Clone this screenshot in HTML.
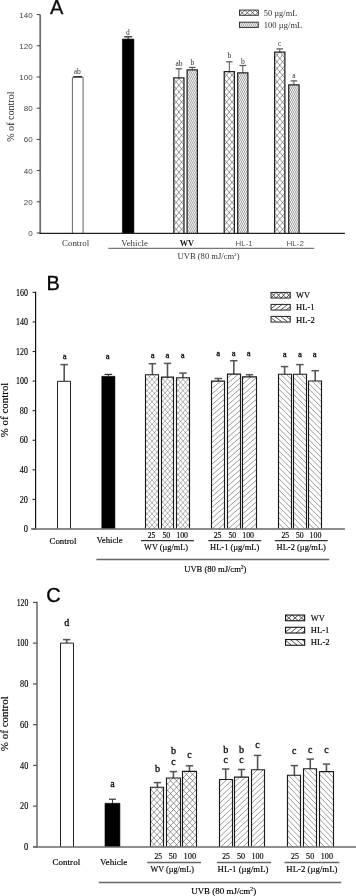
<!DOCTYPE html>
<html><head><meta charset="utf-8"><title>Figure</title>
<style>html,body{margin:0;padding:0;background:#fff}svg{display:block}#chartB text,#chartC text{fill:#000;stroke:#000;stroke-width:.15px}#chartB text.lb,#chartC text.lb{stroke-width:.28px}#chartA text.big,#chartB text.big,#chartC text.big{stroke-width:.3px}</style>
</head><body>
<svg width="356" height="896" viewBox="0 0 356 896">
<rect width="356" height="896" fill="#fff"/>

<g id="chartA">
<line x1="40.2" y1="14.6" x2="40.2" y2="233.5" stroke="#6a6a6a" stroke-width="1.7"/>
<line x1="36.7" y1="233.0" x2="40.2" y2="233.0" stroke="#444" stroke-width="1"/>
<text x="32.7" y="235.9" font-size="8" font-family='"Liberation Sans", sans-serif' fill="#444" text-anchor="end">0</text>
<line x1="36.7" y1="201.8" x2="40.2" y2="201.8" stroke="#444" stroke-width="1"/>
<text x="32.7" y="204.7" font-size="8" font-family='"Liberation Sans", sans-serif' fill="#444" text-anchor="end">20</text>
<line x1="36.7" y1="170.6" x2="40.2" y2="170.6" stroke="#444" stroke-width="1"/>
<text x="32.7" y="173.5" font-size="8" font-family='"Liberation Sans", sans-serif' fill="#444" text-anchor="end">40</text>
<line x1="36.7" y1="139.4" x2="40.2" y2="139.4" stroke="#444" stroke-width="1"/>
<text x="32.7" y="142.3" font-size="8" font-family='"Liberation Sans", sans-serif' fill="#444" text-anchor="end">60</text>
<line x1="36.7" y1="108.2" x2="40.2" y2="108.2" stroke="#444" stroke-width="1"/>
<text x="32.7" y="111.1" font-size="8" font-family='"Liberation Sans", sans-serif' fill="#444" text-anchor="end">80</text>
<line x1="36.7" y1="77.0" x2="40.2" y2="77.0" stroke="#444" stroke-width="1"/>
<text x="32.7" y="79.9" font-size="8" font-family='"Liberation Sans", sans-serif' fill="#444" text-anchor="end">100</text>
<line x1="36.7" y1="45.8" x2="40.2" y2="45.8" stroke="#444" stroke-width="1"/>
<text x="32.7" y="48.7" font-size="8" font-family='"Liberation Sans", sans-serif' fill="#444" text-anchor="end">120</text>
<line x1="36.7" y1="14.6" x2="40.2" y2="14.6" stroke="#444" stroke-width="1"/>
<text x="32.7" y="17.5" font-size="8" font-family='"Liberation Sans", sans-serif' fill="#444" text-anchor="end">140</text>
<text x="14.5" y="141.8" font-size="9.5" font-family='"Liberation Serif", serif' fill="#222" textLength="50.3" lengthAdjust="spacingAndGlyphs" transform="rotate(-90 14.5 141.8)">% of control</text>
<text x="50.0" y="14.2" font-size="20" font-family='"Liberation Sans", sans-serif' fill="#111" class="big" stroke="#111" stroke-width="0.3">A</text>
<line x1="77.75" y1="76.6" x2="77.75" y2="77.5" stroke="#333" stroke-width="1.0"/>
<line x1="73.25" y1="76.6" x2="82.25" y2="76.6" stroke="#333" stroke-width="1.2"/>
<rect x="72.4" y="77.5" width="10.7" height="155.5" fill="#fff"/>
<path d="M72.4 233V77.5H83.1V233" fill="none" stroke="#666" stroke-width="1"/>
<line x1="128.14999999999998" y1="36.8" x2="128.14999999999998" y2="39.1" stroke="#222" stroke-width="1.0"/>
<line x1="124.14999999999998" y1="36.8" x2="132.14999999999998" y2="36.8" stroke="#222" stroke-width="1.2"/>
<rect x="122.4" y="39.1" width="11.5" height="193.9" fill="#000"/>
<path d="M122.4 233V39.1H133.9V233" fill="none" stroke="#000" stroke-width="0.6"/>
<line x1="178.89999999999998" y1="68.8" x2="178.89999999999998" y2="77.83" stroke="#555" stroke-width="1.0"/>
<line x1="175.59999999999997" y1="68.8" x2="182.2" y2="68.8" stroke="#555" stroke-width="1.2"/>
<rect x="173.82" y="77.83" width="10.15" height="155.17" fill="#fff"/>
<path d="M178.6 233.0L184.0 226.3M173.8 232.2L184.0 219.6M173.8 225.5L184.0 212.9M173.8 218.8L184.0 206.2M173.8 212.1L184.0 199.5M173.8 205.4L184.0 192.8M173.8 198.7L184.0 186.1M173.8 192.0L184.0 179.4M173.8 185.3L184.0 172.7M173.8 178.6L184.0 166.0M173.8 171.9L184.0 159.3M173.8 165.2L184.0 152.6M173.8 158.5L184.0 145.9M173.8 151.8L184.0 139.2M173.8 145.1L184.0 132.5M173.8 138.4L184.0 125.8M173.8 131.7L184.0 119.1M173.8 125.0L184.0 112.4M173.8 118.3L184.0 105.7M173.8 111.6L184.0 99.0M173.8 104.9L184.0 92.3M173.8 98.2L184.0 85.6M173.8 91.5L184.0 78.9M173.8 84.8L179.4 77.8M173.8 78.1L174.0 77.8M173.8 226.3L179.2 233.0M173.8 219.6L184.0 232.2M173.8 212.9L184.0 225.5M173.8 206.2L184.0 218.8M173.8 199.5L184.0 212.1M173.8 192.8L184.0 205.4M173.8 186.1L184.0 198.7M173.8 179.4L184.0 192.0M173.8 172.7L184.0 185.3M173.8 166.0L184.0 178.6M173.8 159.3L184.0 171.9M173.8 152.6L184.0 165.2M173.8 145.9L184.0 158.5M173.8 139.2L184.0 151.8M173.8 132.5L184.0 145.1M173.8 125.8L184.0 138.4M173.8 119.1L184.0 131.7M173.8 112.4L184.0 125.0M173.8 105.7L184.0 118.3M173.8 99.0L184.0 111.6M173.8 92.3L184.0 104.9M173.8 85.6L184.0 98.2M173.8 78.9L184.0 91.5M178.4 77.8L184.0 84.8M183.8 77.8L184.0 78.1" stroke="#444" stroke-width="0.55" fill="none"/>
<path d="M173.82 233V77.83H183.97V233" fill="none" stroke="#222" stroke-width="1.25"/>
<line x1="192.25" y1="67.4" x2="192.25" y2="69.92" stroke="#555" stroke-width="1.0"/>
<line x1="188.95" y1="67.4" x2="195.55" y2="67.4" stroke="#555" stroke-width="1.2"/>
<rect x="187.12" y="69.92" width="10.26" height="163.08" fill="#fff"/>
<path d="M195.4 233.0L197.4 229.0M193.4 233.0L197.4 225.0M191.4 233.0L197.4 221.0M189.4 233.0L197.4 217.0M187.4 233.0L197.4 213.0M187.1 229.5L197.4 209.0M187.1 225.5L197.4 205.0M187.1 221.5L197.4 201.0M187.1 217.5L197.4 197.0M187.1 213.5L197.4 193.0M187.1 209.5L197.4 189.0M187.1 205.5L197.4 185.0M187.1 201.5L197.4 181.0M187.1 197.5L197.4 177.0M187.1 193.5L197.4 173.0M187.1 189.5L197.4 169.0M187.1 185.5L197.4 165.0M187.1 181.5L197.4 161.0M187.1 177.5L197.4 157.0M187.1 173.5L197.4 153.0M187.1 169.5L197.4 149.0M187.1 165.5L197.4 145.0M187.1 161.5L197.4 141.0M187.1 157.5L197.4 137.0M187.1 153.5L197.4 133.0M187.1 149.5L197.4 129.0M187.1 145.5L197.4 125.0M187.1 141.5L197.4 121.0M187.1 137.5L197.4 117.0M187.1 133.5L197.4 113.0M187.1 129.5L197.4 109.0M187.1 125.5L197.4 105.0M187.1 121.5L197.4 101.0M187.1 117.5L197.4 97.0M187.1 113.5L197.4 93.0M187.1 109.5L197.4 89.0M187.1 105.5L197.4 85.0M187.1 101.5L197.4 81.0M187.1 97.5L197.4 77.0M187.1 93.5L197.4 73.0M187.1 89.5L196.9 69.9M187.1 85.5L194.9 69.9M187.1 81.5L192.9 69.9M187.1 77.5L190.9 69.9M187.1 73.5L188.9 69.9" stroke="#555" stroke-width="0.6" fill="none"/>
<path d="M187.12 233V69.92H197.38V233" fill="none" stroke="#222" stroke-width="1.25"/>
<line x1="229.3" y1="61.8" x2="229.3" y2="71.53" stroke="#555" stroke-width="1.0"/>
<line x1="226.0" y1="61.8" x2="232.60000000000002" y2="61.8" stroke="#555" stroke-width="1.2"/>
<rect x="224.22" y="71.53" width="10.16" height="161.47" fill="#fff"/>
<path d="M229.0 233.0L234.4 226.3M224.2 232.2L234.4 219.6M224.2 225.5L234.4 212.9M224.2 218.8L234.4 206.2M224.2 212.1L234.4 199.5M224.2 205.4L234.4 192.8M224.2 198.7L234.4 186.1M224.2 192.0L234.4 179.4M224.2 185.3L234.4 172.7M224.2 178.6L234.4 166.0M224.2 171.9L234.4 159.3M224.2 165.2L234.4 152.6M224.2 158.5L234.4 145.9M224.2 151.8L234.4 139.2M224.2 145.1L234.4 132.5M224.2 138.4L234.4 125.8M224.2 131.7L234.4 119.1M224.2 125.0L234.4 112.4M224.2 118.3L234.4 105.7M224.2 111.6L234.4 99.0M224.2 104.9L234.4 92.3M224.2 98.2L234.4 85.6M224.2 91.5L234.4 78.9M224.2 84.8L234.4 72.2M224.2 78.1L229.5 71.5M224.2 226.3L229.6 233.0M224.2 219.6L234.4 232.2M224.2 212.9L234.4 225.5M224.2 206.2L234.4 218.8M224.2 199.5L234.4 212.1M224.2 192.8L234.4 205.4M224.2 186.1L234.4 198.7M224.2 179.4L234.4 192.0M224.2 172.7L234.4 185.3M224.2 166.0L234.4 178.6M224.2 159.3L234.4 171.9M224.2 152.6L234.4 165.2M224.2 145.9L234.4 158.5M224.2 139.2L234.4 151.8M224.2 132.5L234.4 145.1M224.2 125.8L234.4 138.4M224.2 119.1L234.4 131.7M224.2 112.4L234.4 125.0M224.2 105.7L234.4 118.3M224.2 99.0L234.4 111.6M224.2 92.3L234.4 104.9M224.2 85.6L234.4 98.2M224.2 78.9L234.4 91.5M224.2 72.2L234.4 84.8M229.1 71.5L234.4 78.1" stroke="#444" stroke-width="0.55" fill="none"/>
<path d="M224.22 233V71.53H234.38V233" fill="none" stroke="#222" stroke-width="1.25"/>
<line x1="242.8" y1="65.5" x2="242.8" y2="72.83" stroke="#555" stroke-width="1.0"/>
<line x1="239.5" y1="65.5" x2="246.10000000000002" y2="65.5" stroke="#555" stroke-width="1.2"/>
<rect x="237.72" y="72.83" width="10.16" height="160.17" fill="#fff"/>
<path d="M245.9 233.0L247.9 229.0M243.9 233.0L247.9 225.0M241.9 233.0L247.9 221.0M239.9 233.0L247.9 217.0M237.9 233.0L247.9 213.0M237.7 229.3L247.9 209.0M237.7 225.3L247.9 205.0M237.7 221.3L247.9 201.0M237.7 217.3L247.9 197.0M237.7 213.3L247.9 193.0M237.7 209.3L247.9 189.0M237.7 205.3L247.9 185.0M237.7 201.3L247.9 181.0M237.7 197.3L247.9 177.0M237.7 193.3L247.9 173.0M237.7 189.3L247.9 169.0M237.7 185.3L247.9 165.0M237.7 181.3L247.9 161.0M237.7 177.3L247.9 157.0M237.7 173.3L247.9 153.0M237.7 169.3L247.9 149.0M237.7 165.3L247.9 145.0M237.7 161.3L247.9 141.0M237.7 157.3L247.9 137.0M237.7 153.3L247.9 133.0M237.7 149.3L247.9 129.0M237.7 145.3L247.9 125.0M237.7 141.3L247.9 121.0M237.7 137.3L247.9 117.0M237.7 133.3L247.9 113.0M237.7 129.3L247.9 109.0M237.7 125.3L247.9 105.0M237.7 121.3L247.9 101.0M237.7 117.3L247.9 97.0M237.7 113.3L247.9 93.0M237.7 109.3L247.9 89.0M237.7 105.3L247.9 85.0M237.7 101.3L247.9 81.0M237.7 97.3L247.9 77.0M237.7 93.3L247.9 73.0M237.7 89.3L246.0 72.8M237.7 85.3L244.0 72.8M237.7 81.3L242.0 72.8M237.7 77.3L240.0 72.8M237.7 73.3L238.0 72.8" stroke="#555" stroke-width="0.6" fill="none"/>
<path d="M237.72 233V72.83H247.88V233" fill="none" stroke="#222" stroke-width="1.25"/>
<line x1="279.75" y1="48.9" x2="279.75" y2="52.23" stroke="#555" stroke-width="1.0"/>
<line x1="276.45" y1="48.9" x2="283.05" y2="48.9" stroke="#555" stroke-width="1.2"/>
<rect x="274.62" y="52.23" width="10.26" height="180.77" fill="#fff"/>
<path d="M279.5 233.0L284.9 226.3M274.6 232.3L284.9 219.6M274.6 225.6L284.9 212.9M274.6 218.9L284.9 206.2M274.6 212.2L284.9 199.5M274.6 205.5L284.9 192.8M274.6 198.8L284.9 186.1M274.6 192.1L284.9 179.4M274.6 185.4L284.9 172.7M274.6 178.7L284.9 166.0M274.6 172.0L284.9 159.3M274.6 165.3L284.9 152.6M274.6 158.6L284.9 145.9M274.6 151.9L284.9 139.2M274.6 145.2L284.9 132.5M274.6 138.5L284.9 125.8M274.6 131.8L284.9 119.1M274.6 125.1L284.9 112.4M274.6 118.4L284.9 105.7M274.6 111.7L284.9 99.0M274.6 105.0L284.9 92.3M274.6 98.3L284.9 85.6M274.6 91.6L284.9 78.9M274.6 84.9L284.9 72.2M274.6 78.2L284.9 65.5M274.6 71.5L284.9 58.8M274.6 64.8L284.8 52.2M274.6 58.1L279.4 52.2M274.6 226.3L280.0 233.0M274.6 219.6L284.9 232.3M274.6 212.9L284.9 225.6M274.6 206.2L284.9 218.9M274.6 199.5L284.9 212.2M274.6 192.8L284.9 205.5M274.6 186.1L284.9 198.8M274.6 179.4L284.9 192.1M274.6 172.7L284.9 185.4M274.6 166.0L284.9 178.7M274.6 159.3L284.9 172.0M274.6 152.6L284.9 165.3M274.6 145.9L284.9 158.6M274.6 139.2L284.9 151.9M274.6 132.5L284.9 145.2M274.6 125.8L284.9 138.5M274.6 119.1L284.9 131.8M274.6 112.4L284.9 125.1M274.6 105.7L284.9 118.4M274.6 99.0L284.9 111.7M274.6 92.3L284.9 105.0M274.6 85.6L284.9 98.3M274.6 78.9L284.9 91.6M274.6 72.2L284.9 84.9M274.6 65.5L284.9 78.2M274.6 58.8L284.9 71.5M274.7 52.2L284.9 64.8M280.1 52.2L284.9 58.1" stroke="#444" stroke-width="0.55" fill="none"/>
<path d="M274.62 233V52.23H284.88V233" fill="none" stroke="#222" stroke-width="1.25"/>
<line x1="293.9" y1="80.9" x2="293.9" y2="84.92" stroke="#555" stroke-width="1.0"/>
<line x1="290.59999999999997" y1="80.9" x2="297.2" y2="80.9" stroke="#555" stroke-width="1.2"/>
<rect x="288.73" y="84.92" width="10.34" height="148.08" fill="#fff"/>
<path d="M297.1 233.0L299.1 229.0M295.1 233.0L299.1 225.0M293.1 233.0L299.1 221.0M291.1 233.0L299.1 217.0M289.1 233.0L299.1 213.0M288.7 229.7L299.1 209.0M288.7 225.7L299.1 205.0M288.7 221.7L299.1 201.0M288.7 217.7L299.1 197.0M288.7 213.7L299.1 193.0M288.7 209.7L299.1 189.0M288.7 205.7L299.1 185.0M288.7 201.7L299.1 181.0M288.7 197.7L299.1 177.0M288.7 193.7L299.1 173.0M288.7 189.7L299.1 169.0M288.7 185.7L299.1 165.0M288.7 181.7L299.1 161.0M288.7 177.7L299.1 157.0M288.7 173.7L299.1 153.0M288.7 169.7L299.1 149.0M288.7 165.7L299.1 145.0M288.7 161.7L299.1 141.0M288.7 157.7L299.1 137.0M288.7 153.7L299.1 133.0M288.7 149.7L299.1 129.0M288.7 145.7L299.1 125.0M288.7 141.7L299.1 121.0M288.7 137.7L299.1 117.0M288.7 133.7L299.1 113.0M288.7 129.7L299.1 109.0M288.7 125.7L299.1 105.0M288.7 121.7L299.1 101.0M288.7 117.7L299.1 97.0M288.7 113.7L299.1 93.0M288.7 109.7L299.1 89.0M288.7 105.7L299.1 85.0M288.7 101.7L297.1 84.9M288.7 97.7L295.1 84.9M288.7 93.7L293.1 84.9M288.7 89.7L291.1 84.9M288.7 85.7L289.1 84.9" stroke="#555" stroke-width="0.6" fill="none"/>
<path d="M288.73 233V84.92H299.07V233" fill="none" stroke="#222" stroke-width="1.25"/>
<text x="77.2" y="73.6" font-size="7.5" font-family='"Liberation Serif", serif' fill="#333" text-anchor="middle">ab</text>
<text x="127.8" y="35.1" font-size="7.5" font-family='"Liberation Serif", serif' fill="#333" text-anchor="middle">d</text>
<text x="179" y="66.2" font-size="7.5" font-family='"Liberation Serif", serif' fill="#333" text-anchor="middle">ab</text>
<text x="192.3" y="65.0" font-size="7.5" font-family='"Liberation Serif", serif' fill="#333" text-anchor="middle">b</text>
<text x="229.3" y="57.8" font-size="7.5" font-family='"Liberation Serif", serif' fill="#333" text-anchor="middle">b</text>
<text x="242.8" y="63.6" font-size="7.5" font-family='"Liberation Serif", serif' fill="#333" text-anchor="middle">b</text>
<text x="279.7" y="46" font-size="7.5" font-family='"Liberation Serif", serif' fill="#333" text-anchor="middle">c</text>
<text x="294" y="78" font-size="7.5" font-family='"Liberation Serif", serif' fill="#333" text-anchor="middle">a</text>
<rect x="239.50" y="10.10" width="18.80" height="5.20" fill="#fff"/>
<clipPath id="c2390_96"><rect x="239.50" y="10.10" width="18.80" height="5.20"/></clipPath>
<path clip-path="url(#c2390_96)" d="M234.3 15.3L239.5 10.1M234.3 10.1L239.5 15.3M239.5 15.3L244.7 10.1M239.5 10.1L244.7 15.3M244.7 15.3L249.9 10.1M244.7 10.1L249.9 15.3M249.9 15.3L255.1 10.1M249.9 10.1L255.1 15.3M255.1 15.3L260.3 10.1M255.1 10.1L260.3 15.3" stroke="#333" stroke-width="0.7" fill="none"/>
<rect x="239.50" y="10.10" width="18.80" height="5.20" fill="none" stroke="#333" stroke-width="1.0"/>
<rect x="239.50" y="22.20" width="18.80" height="5.20" fill="#fff"/>
<path d="M256.3 27.4L258.3 23.4M254.3 27.4L256.9 22.2M252.3 27.4L254.9 22.2M250.3 27.4L252.9 22.2M248.3 27.4L250.9 22.2M246.3 27.4L248.9 22.2M244.3 27.4L246.9 22.2M242.3 27.4L244.9 22.2M240.3 27.4L242.9 22.2M239.5 25.0L240.9 22.2" stroke="#555" stroke-width="0.6" fill="none"/>
<rect x="239.50" y="22.20" width="18.80" height="5.20" fill="none" stroke="#333" stroke-width="1.0"/>
<text x="263.8" y="15.6" font-size="7.5" font-family='"Liberation Serif", serif' fill="#333" textLength="33.5" lengthAdjust="spacingAndGlyphs">50 µg/mL</text>
<text x="263.8" y="27.7" font-size="7.5" font-family='"Liberation Serif", serif' fill="#333" textLength="38.5" lengthAdjust="spacingAndGlyphs">100 µg/mL</text>
<text x="62" y="245.6" font-size="8" font-family='"Liberation Serif", serif' fill="#333" textLength="27.2" lengthAdjust="spacingAndGlyphs">Control</text>
<text x="121.2" y="245.6" font-size="8" font-family='"Liberation Serif", serif' fill="#333" textLength="26.8" lengthAdjust="spacingAndGlyphs">Vehicle</text>
<text x="179.8" y="245.6" font-size="8" font-family='"Liberation Serif", serif' fill="#111" textLength="14.3" lengthAdjust="spacingAndGlyphs" font-weight="bold">WV</text>
<text x="235.6" y="245.9" font-size="7.4" font-family='"Liberation Sans", sans-serif' fill="#555" textLength="17.2" lengthAdjust="spacingAndGlyphs">HL-1</text>
<text x="286.4" y="245.9" font-size="7.4" font-family='"Liberation Sans", sans-serif' fill="#555" textLength="17.5" lengthAdjust="spacingAndGlyphs">HL-2</text>
<line x1="108.3" y1="248.3" x2="314.2" y2="248.3" stroke="#555" stroke-width="1"/>
<text x="177.6" y="259.3" font-size="8" font-family='"Liberation Serif", serif' fill="#333" textLength="62" lengthAdjust="spacingAndGlyphs">UVB (80 mJ/cm<tspan dy="-3" font-size="5">2</tspan><tspan dy="3">)</tspan></text>
<line x1="39.4" y1="233.3" x2="344.9" y2="233.3" stroke="#222" stroke-width="1.2"/>
</g>
<g id="chartB">
<line x1="35.6" y1="291.86" x2="35.6" y2="529.3" stroke="#111" stroke-width="1.2"/>
<line x1="32.6" y1="529.0" x2="35.5" y2="529.0" stroke="#222" stroke-width="1.1"/>
<text x="27.9" y="532.2" font-size="9.5" font-family='"Liberation Serif", serif' fill="#222" text-anchor="end" textLength="4.2" lengthAdjust="spacingAndGlyphs">0</text>
<line x1="32.6" y1="499.42" x2="35.5" y2="499.42" stroke="#222" stroke-width="1.1"/>
<text x="27.9" y="502.62" font-size="9.5" font-family='"Liberation Serif", serif' fill="#222" text-anchor="end" textLength="8.2" lengthAdjust="spacingAndGlyphs">20</text>
<line x1="32.6" y1="469.84" x2="35.5" y2="469.84" stroke="#222" stroke-width="1.1"/>
<text x="27.9" y="473.04" font-size="9.5" font-family='"Liberation Serif", serif' fill="#222" text-anchor="end" textLength="8.2" lengthAdjust="spacingAndGlyphs">40</text>
<line x1="32.6" y1="440.26" x2="35.5" y2="440.26" stroke="#222" stroke-width="1.1"/>
<text x="27.9" y="443.46" font-size="9.5" font-family='"Liberation Serif", serif' fill="#222" text-anchor="end" textLength="8.2" lengthAdjust="spacingAndGlyphs">60</text>
<line x1="32.6" y1="410.68" x2="35.5" y2="410.68" stroke="#222" stroke-width="1.1"/>
<text x="27.9" y="413.88" font-size="9.5" font-family='"Liberation Serif", serif' fill="#222" text-anchor="end" textLength="8.2" lengthAdjust="spacingAndGlyphs">80</text>
<line x1="32.6" y1="381.1" x2="35.5" y2="381.1" stroke="#222" stroke-width="1.1"/>
<text x="27.9" y="384.3" font-size="9.5" font-family='"Liberation Serif", serif' fill="#222" text-anchor="end" textLength="11.9" lengthAdjust="spacingAndGlyphs">100</text>
<line x1="32.6" y1="351.52" x2="35.5" y2="351.52" stroke="#222" stroke-width="1.1"/>
<text x="27.9" y="354.72" font-size="9.5" font-family='"Liberation Serif", serif' fill="#222" text-anchor="end" textLength="11.9" lengthAdjust="spacingAndGlyphs">120</text>
<line x1="32.6" y1="321.94" x2="35.5" y2="321.94" stroke="#222" stroke-width="1.1"/>
<text x="27.9" y="325.14" font-size="9.5" font-family='"Liberation Serif", serif' fill="#222" text-anchor="end" textLength="11.9" lengthAdjust="spacingAndGlyphs">140</text>
<line x1="32.6" y1="292.36" x2="35.5" y2="292.36" stroke="#222" stroke-width="1.1"/>
<text x="27.9" y="295.56" font-size="9.5" font-family='"Liberation Serif", serif' fill="#222" text-anchor="end" textLength="11.9" lengthAdjust="spacingAndGlyphs">160</text>
<text x="7.7" y="437.2" font-size="10.8" font-family='"Liberation Serif", serif' fill="#222" textLength="54.6" lengthAdjust="spacingAndGlyphs" transform="rotate(-90 7.7 437.2)">% of control</text>
<text x="46.6" y="290.1" font-size="20" font-family='"Liberation Sans", sans-serif' fill="#111" class="big" stroke="#111" stroke-width="0.3">B</text>
<line x1="64.2" y1="364.6" x2="64.2" y2="381.3" stroke="#555" stroke-width="1.6"/>
<line x1="60.5" y1="364.6" x2="67.9" y2="364.6" stroke="#555" stroke-width="1.5"/>
<rect x="57.5" y="381.3" width="13.0" height="147.5" fill="#fff"/>
<path d="M57.5 528.8V381.3H70.5V528.8" fill="none" stroke="#222" stroke-width="1"/>
<line x1="108.35" y1="374.4" x2="108.35" y2="376.3" stroke="#333" stroke-width="1.0"/>
<line x1="104.55" y1="374.4" x2="112.14999999999999" y2="374.4" stroke="#333" stroke-width="1.2"/>
<rect x="101.8" y="376.3" width="13.1" height="152.5" fill="#000"/>
<path d="M101.8 528.8V376.3H114.9V528.8" fill="none" stroke="#000" stroke-width="0.6"/>
<line x1="152.4" y1="363.7" x2="152.4" y2="374.77" stroke="#555" stroke-width="1.6"/>
<line x1="148.70000000000002" y1="363.7" x2="156.1" y2="363.7" stroke="#555" stroke-width="1.5"/>
<rect x="145.5" y="374.77" width="13.0" height="154.03" fill="#fff"/>
<path d="M153.6 528.8L158.5 523.2M148.7 528.8L158.5 517.6M145.5 526.8L158.5 512.0M145.5 521.2L158.5 506.4M145.5 515.6L158.5 500.8M145.5 510.0L158.5 495.2M145.5 504.4L158.5 489.6M145.5 498.8L158.5 484.0M145.5 493.2L158.5 478.4M145.5 487.6L158.5 472.8M145.5 482.0L158.5 467.2M145.5 476.4L158.5 461.6M145.5 470.8L158.5 456.0M145.5 465.2L158.5 450.4M145.5 459.6L158.5 444.8M145.5 454.0L158.5 439.2M145.5 448.4L158.5 433.6M145.5 442.8L158.5 428.0M145.5 437.2L158.5 422.4M145.5 431.6L158.5 416.8M145.5 426.0L158.5 411.2M145.5 420.4L158.5 405.6M145.5 414.8L158.5 400.0M145.5 409.2L158.5 394.4M145.5 403.6L158.5 388.8M145.5 398.0L158.5 383.2M145.5 392.4L158.5 377.6M145.5 386.8L156.1 374.8M145.5 381.2L151.2 374.8M145.5 375.6L146.2 374.8M145.5 523.2L150.4 528.8M145.5 517.6L155.3 528.8M145.5 512.0L158.5 526.8M145.5 506.4L158.5 521.2M145.5 500.8L158.5 515.6M145.5 495.2L158.5 510.0M145.5 489.6L158.5 504.4M145.5 484.0L158.5 498.8M145.5 478.4L158.5 493.2M145.5 472.8L158.5 487.6M145.5 467.2L158.5 482.0M145.5 461.6L158.5 476.4M145.5 456.0L158.5 470.8M145.5 450.4L158.5 465.2M145.5 444.8L158.5 459.6M145.5 439.2L158.5 454.0M145.5 433.6L158.5 448.4M145.5 428.0L158.5 442.8M145.5 422.4L158.5 437.2M145.5 416.8L158.5 431.6M145.5 411.2L158.5 426.0M145.5 405.6L158.5 420.4M145.5 400.0L158.5 414.8M145.5 394.4L158.5 409.2M145.5 388.8L158.5 403.6M145.5 383.2L158.5 398.0M145.5 377.6L158.5 392.4M147.9 374.8L158.5 386.8M152.8 374.8L158.5 381.2M157.8 374.8L158.5 375.6" stroke="#555" stroke-width="0.45" fill="none"/>
<path d="M145.5 528.8V374.77H158.5V528.8" fill="none" stroke="#1a1a1a" stroke-width="1.15"/>
<line x1="167.5" y1="363.4" x2="167.5" y2="377.07" stroke="#555" stroke-width="1.6"/>
<line x1="163.8" y1="363.4" x2="171.2" y2="363.4" stroke="#555" stroke-width="1.5"/>
<rect x="161.5" y="377.07" width="12.0" height="151.73" fill="#fff"/>
<path d="M168.6 528.8L173.5 523.2M163.7 528.8L173.5 517.6M161.5 525.7L173.5 512.0M161.5 520.1L173.5 506.4M161.5 514.5L173.5 500.8M161.5 508.9L173.5 495.2M161.5 503.3L173.5 489.6M161.5 497.7L173.5 484.0M161.5 492.1L173.5 478.4M161.5 486.5L173.5 472.8M161.5 480.9L173.5 467.2M161.5 475.3L173.5 461.6M161.5 469.7L173.5 456.0M161.5 464.1L173.5 450.4M161.5 458.5L173.5 444.8M161.5 452.9L173.5 439.2M161.5 447.3L173.5 433.6M161.5 441.7L173.5 428.0M161.5 436.1L173.5 422.4M161.5 430.5L173.5 416.8M161.5 424.9L173.5 411.2M161.5 419.3L173.5 405.6M161.5 413.7L173.5 400.0M161.5 408.1L173.5 394.4M161.5 402.5L173.5 388.8M161.5 396.9L173.5 383.2M161.5 391.3L173.5 377.6M161.5 385.7L169.1 377.1M161.5 380.1L164.1 377.1M161.5 523.2L166.4 528.8M161.5 517.6L171.3 528.8M161.5 512.0L173.5 525.7M161.5 506.4L173.5 520.1M161.5 500.8L173.5 514.5M161.5 495.2L173.5 508.9M161.5 489.6L173.5 503.3M161.5 484.0L173.5 497.7M161.5 478.4L173.5 492.1M161.5 472.8L173.5 486.5M161.5 467.2L173.5 480.9M161.5 461.6L173.5 475.3M161.5 456.0L173.5 469.7M161.5 450.4L173.5 464.1M161.5 444.8L173.5 458.5M161.5 439.2L173.5 452.9M161.5 433.6L173.5 447.3M161.5 428.0L173.5 441.7M161.5 422.4L173.5 436.1M161.5 416.8L173.5 430.5M161.5 411.2L173.5 424.9M161.5 405.6L173.5 419.3M161.5 400.0L173.5 413.7M161.5 394.4L173.5 408.1M161.5 388.8L173.5 402.5M161.5 383.2L173.5 396.9M161.5 377.6L173.5 391.3M165.9 377.1L173.5 385.7M170.9 377.1L173.5 380.1" stroke="#555" stroke-width="0.45" fill="none"/>
<path d="M161.5 528.8V377.07H173.5V528.8" fill="none" stroke="#1a1a1a" stroke-width="1.15"/>
<line x1="182.9" y1="373.1" x2="182.9" y2="377.77" stroke="#555" stroke-width="1.6"/>
<line x1="179.20000000000002" y1="373.1" x2="186.6" y2="373.1" stroke="#555" stroke-width="1.5"/>
<rect x="176.5" y="377.77" width="13.0" height="151.03" fill="#fff"/>
<path d="M184.6 528.8L189.5 523.2M179.7 528.8L189.5 517.6M176.5 526.8L189.5 512.0M176.5 521.2L189.5 506.4M176.5 515.6L189.5 500.8M176.5 510.0L189.5 495.2M176.5 504.4L189.5 489.6M176.5 498.8L189.5 484.0M176.5 493.2L189.5 478.4M176.5 487.6L189.5 472.8M176.5 482.0L189.5 467.2M176.5 476.4L189.5 461.6M176.5 470.8L189.5 456.0M176.5 465.2L189.5 450.4M176.5 459.6L189.5 444.8M176.5 454.0L189.5 439.2M176.5 448.4L189.5 433.6M176.5 442.8L189.5 428.0M176.5 437.2L189.5 422.4M176.5 431.6L189.5 416.8M176.5 426.0L189.5 411.2M176.5 420.4L189.5 405.6M176.5 414.8L189.5 400.0M176.5 409.2L189.5 394.4M176.5 403.6L189.5 388.8M176.5 398.0L189.5 383.2M176.5 392.4L189.4 377.8M176.5 386.8L184.4 377.8M176.5 381.2L179.5 377.8M176.5 523.2L181.4 528.8M176.5 517.6L186.3 528.8M176.5 512.0L189.5 526.8M176.5 506.4L189.5 521.2M176.5 500.8L189.5 515.6M176.5 495.2L189.5 510.0M176.5 489.6L189.5 504.4M176.5 484.0L189.5 498.8M176.5 478.4L189.5 493.2M176.5 472.8L189.5 487.6M176.5 467.2L189.5 482.0M176.5 461.6L189.5 476.4M176.5 456.0L189.5 470.8M176.5 450.4L189.5 465.2M176.5 444.8L189.5 459.6M176.5 439.2L189.5 454.0M176.5 433.6L189.5 448.4M176.5 428.0L189.5 442.8M176.5 422.4L189.5 437.2M176.5 416.8L189.5 431.6M176.5 411.2L189.5 426.0M176.5 405.6L189.5 420.4M176.5 400.0L189.5 414.8M176.5 394.4L189.5 409.2M176.5 388.8L189.5 403.6M176.5 383.2L189.5 398.0M176.6 377.8L189.5 392.4M181.6 377.8L189.5 386.8M186.5 377.8L189.5 381.2" stroke="#555" stroke-width="0.45" fill="none"/>
<path d="M176.5 528.8V377.77H189.5V528.8" fill="none" stroke="#1a1a1a" stroke-width="1.15"/>
<line x1="218.3" y1="378.5" x2="218.3" y2="381.18" stroke="#555" stroke-width="1.6"/>
<line x1="214.60000000000002" y1="378.5" x2="222.0" y2="378.5" stroke="#555" stroke-width="1.5"/>
<rect x="211.5" y="381.18" width="13.0" height="147.62" fill="#fff"/>
<path d="M218.3 528.8L224.5 523.4M212.1 528.8L224.5 518.0M211.5 523.9L224.5 512.6M211.5 518.5L224.5 507.2M211.5 513.1L224.5 501.8M211.5 507.7L224.5 496.4M211.5 502.3L224.5 491.0M211.5 496.9L224.5 485.6M211.5 491.5L224.5 480.2M211.5 486.1L224.5 474.8M211.5 480.7L224.5 469.4M211.5 475.3L224.5 464.0M211.5 469.9L224.5 458.6M211.5 464.5L224.5 453.2M211.5 459.1L224.5 447.8M211.5 453.7L224.5 442.4M211.5 448.3L224.5 437.0M211.5 442.9L224.5 431.6M211.5 437.5L224.5 426.2M211.5 432.1L224.5 420.8M211.5 426.7L224.5 415.4M211.5 421.3L224.5 410.0M211.5 415.9L224.5 404.6M211.5 410.5L224.5 399.2M211.5 405.1L224.5 393.8M211.5 399.7L224.5 388.4M211.5 394.3L224.5 383.0M211.5 388.9L220.4 381.2M211.5 383.5L214.2 381.2" stroke="#555" stroke-width="0.6" fill="none"/>
<path d="M211.5 528.8V381.18H224.5V528.8" fill="none" stroke="#1a1a1a" stroke-width="1.15"/>
<line x1="233.8" y1="360.7" x2="233.8" y2="374.07" stroke="#555" stroke-width="1.6"/>
<line x1="230.10000000000002" y1="360.7" x2="237.5" y2="360.7" stroke="#555" stroke-width="1.5"/>
<rect x="227.5" y="374.07" width="13.0" height="154.73" fill="#fff"/>
<path d="M234.3 528.8L240.5 523.4M228.1 528.8L240.5 518.0M227.5 523.9L240.5 512.6M227.5 518.5L240.5 507.2M227.5 513.1L240.5 501.8M227.5 507.7L240.5 496.4M227.5 502.3L240.5 491.0M227.5 496.9L240.5 485.6M227.5 491.5L240.5 480.2M227.5 486.1L240.5 474.8M227.5 480.7L240.5 469.4M227.5 475.3L240.5 464.0M227.5 469.9L240.5 458.6M227.5 464.5L240.5 453.2M227.5 459.1L240.5 447.8M227.5 453.7L240.5 442.4M227.5 448.3L240.5 437.0M227.5 442.9L240.5 431.6M227.5 437.5L240.5 426.2M227.5 432.1L240.5 420.8M227.5 426.7L240.5 415.4M227.5 421.3L240.5 410.0M227.5 415.9L240.5 404.6M227.5 410.5L240.5 399.2M227.5 405.1L240.5 393.8M227.5 399.7L240.5 388.4M227.5 394.3L240.5 383.0M227.5 388.9L240.5 377.6M227.5 383.5L238.4 374.1M227.5 378.1L232.1 374.1" stroke="#555" stroke-width="0.6" fill="none"/>
<path d="M227.5 528.8V374.07H240.5V528.8" fill="none" stroke="#1a1a1a" stroke-width="1.15"/>
<line x1="249.5" y1="374.7" x2="249.5" y2="376.88" stroke="#555" stroke-width="1.6"/>
<line x1="245.8" y1="374.7" x2="253.2" y2="374.7" stroke="#555" stroke-width="1.5"/>
<rect x="242.5" y="376.88" width="14.0" height="151.92" fill="#fff"/>
<path d="M250.3 528.8L256.5 523.4M244.1 528.8L256.5 518.0M242.5 524.8L256.5 512.6M242.5 519.4L256.5 507.2M242.5 514.0L256.5 501.8M242.5 508.6L256.5 496.4M242.5 503.2L256.5 491.0M242.5 497.8L256.5 485.6M242.5 492.4L256.5 480.2M242.5 487.0L256.5 474.8M242.5 481.6L256.5 469.4M242.5 476.2L256.5 464.0M242.5 470.8L256.5 458.6M242.5 465.4L256.5 453.2M242.5 460.0L256.5 447.8M242.5 454.6L256.5 442.4M242.5 449.2L256.5 437.0M242.5 443.8L256.5 431.6M242.5 438.4L256.5 426.2M242.5 433.0L256.5 420.8M242.5 427.6L256.5 415.4M242.5 422.2L256.5 410.0M242.5 416.8L256.5 404.6M242.5 411.4L256.5 399.2M242.5 406.0L256.5 393.8M242.5 400.6L256.5 388.4M242.5 395.2L256.5 383.0M242.5 389.8L256.5 377.6M242.5 384.4L251.1 376.9M242.5 379.0L244.9 376.9" stroke="#555" stroke-width="0.6" fill="none"/>
<path d="M242.5 528.8V376.88H256.5V528.8" fill="none" stroke="#1a1a1a" stroke-width="1.15"/>
<line x1="284.6" y1="366.6" x2="284.6" y2="374.27" stroke="#555" stroke-width="1.6"/>
<line x1="280.90000000000003" y1="366.6" x2="288.3" y2="366.6" stroke="#555" stroke-width="1.5"/>
<rect x="278.5" y="374.27" width="13.0" height="154.53" fill="#fff"/>
<path d="M278.5 523.2L284.1 528.8M278.5 517.6L289.7 528.8M278.5 512.0L291.5 525.0M278.5 506.4L291.5 519.4M278.5 500.8L291.5 513.8M278.5 495.2L291.5 508.2M278.5 489.6L291.5 502.6M278.5 484.0L291.5 497.0M278.5 478.4L291.5 491.4M278.5 472.8L291.5 485.8M278.5 467.2L291.5 480.2M278.5 461.6L291.5 474.6M278.5 456.0L291.5 469.0M278.5 450.4L291.5 463.4M278.5 444.8L291.5 457.8M278.5 439.2L291.5 452.2M278.5 433.6L291.5 446.6M278.5 428.0L291.5 441.0M278.5 422.4L291.5 435.4M278.5 416.8L291.5 429.8M278.5 411.2L291.5 424.2M278.5 405.6L291.5 418.6M278.5 400.0L291.5 413.0M278.5 394.4L291.5 407.4M278.5 388.8L291.5 401.8M278.5 383.2L291.5 396.2M278.5 377.6L291.5 390.6M280.8 374.3L291.5 385.0M286.4 374.3L291.5 379.4" stroke="#555" stroke-width="0.6" fill="none"/>
<path d="M278.5 528.8V374.27H291.5V528.8" fill="none" stroke="#1a1a1a" stroke-width="1.15"/>
<line x1="299.9" y1="364.6" x2="299.9" y2="374.27" stroke="#555" stroke-width="1.6"/>
<line x1="296.2" y1="364.6" x2="303.59999999999997" y2="364.6" stroke="#555" stroke-width="1.5"/>
<rect x="293.5" y="374.27" width="13.0" height="154.53" fill="#fff"/>
<path d="M293.5 523.2L299.1 528.8M293.5 517.6L304.7 528.8M293.5 512.0L306.5 525.0M293.5 506.4L306.5 519.4M293.5 500.8L306.5 513.8M293.5 495.2L306.5 508.2M293.5 489.6L306.5 502.6M293.5 484.0L306.5 497.0M293.5 478.4L306.5 491.4M293.5 472.8L306.5 485.8M293.5 467.2L306.5 480.2M293.5 461.6L306.5 474.6M293.5 456.0L306.5 469.0M293.5 450.4L306.5 463.4M293.5 444.8L306.5 457.8M293.5 439.2L306.5 452.2M293.5 433.6L306.5 446.6M293.5 428.0L306.5 441.0M293.5 422.4L306.5 435.4M293.5 416.8L306.5 429.8M293.5 411.2L306.5 424.2M293.5 405.6L306.5 418.6M293.5 400.0L306.5 413.0M293.5 394.4L306.5 407.4M293.5 388.8L306.5 401.8M293.5 383.2L306.5 396.2M293.5 377.6L306.5 390.6M295.8 374.3L306.5 385.0M301.4 374.3L306.5 379.4" stroke="#555" stroke-width="0.6" fill="none"/>
<path d="M293.5 528.8V374.27H306.5V528.8" fill="none" stroke="#1a1a1a" stroke-width="1.15"/>
<line x1="315.2" y1="370.7" x2="315.2" y2="380.97" stroke="#555" stroke-width="1.6"/>
<line x1="311.5" y1="370.7" x2="318.9" y2="370.7" stroke="#555" stroke-width="1.5"/>
<rect x="308.5" y="380.97" width="13.0" height="147.83" fill="#fff"/>
<path d="M308.5 523.2L314.1 528.8M308.5 517.6L319.7 528.8M308.5 512.0L321.5 525.0M308.5 506.4L321.5 519.4M308.5 500.8L321.5 513.8M308.5 495.2L321.5 508.2M308.5 489.6L321.5 502.6M308.5 484.0L321.5 497.0M308.5 478.4L321.5 491.4M308.5 472.8L321.5 485.8M308.5 467.2L321.5 480.2M308.5 461.6L321.5 474.6M308.5 456.0L321.5 469.0M308.5 450.4L321.5 463.4M308.5 444.8L321.5 457.8M308.5 439.2L321.5 452.2M308.5 433.6L321.5 446.6M308.5 428.0L321.5 441.0M308.5 422.4L321.5 435.4M308.5 416.8L321.5 429.8M308.5 411.2L321.5 424.2M308.5 405.6L321.5 418.6M308.5 400.0L321.5 413.0M308.5 394.4L321.5 407.4M308.5 388.8L321.5 401.8M308.5 383.2L321.5 396.2M311.9 381.0L321.5 390.6M317.5 381.0L321.5 385.0" stroke="#555" stroke-width="0.6" fill="none"/>
<path d="M308.5 528.8V380.97H321.5V528.8" fill="none" stroke="#1a1a1a" stroke-width="1.15"/>
<text x="64.8" y="358.8" font-size="8.8" font-family='"Liberation Serif", serif' fill="#111" text-anchor="middle" class="lb">a</text>
<text x="107.7" y="358.8" font-size="8.8" font-family='"Liberation Serif", serif' fill="#111" text-anchor="middle" class="lb">a</text>
<text x="152.6" y="357.9" font-size="8.8" font-family='"Liberation Serif", serif' fill="#111" text-anchor="middle" class="lb">a</text>
<text x="167.5" y="357.9" font-size="8.8" font-family='"Liberation Serif", serif' fill="#111" text-anchor="middle" class="lb">a</text>
<text x="182.6" y="357.9" font-size="8.8" font-family='"Liberation Serif", serif' fill="#111" text-anchor="middle" class="lb">a</text>
<text x="218.1" y="356.3" font-size="8.8" font-family='"Liberation Serif", serif' fill="#111" text-anchor="middle" class="lb">a</text>
<text x="233.7" y="356.3" font-size="8.8" font-family='"Liberation Serif", serif' fill="#111" text-anchor="middle" class="lb">a</text>
<text x="248.8" y="356.3" font-size="8.8" font-family='"Liberation Serif", serif' fill="#111" text-anchor="middle" class="lb">a</text>
<text x="284.6" y="356.8" font-size="8.8" font-family='"Liberation Serif", serif' fill="#111" text-anchor="middle" class="lb">a</text>
<text x="299.9" y="356.8" font-size="8.8" font-family='"Liberation Serif", serif' fill="#111" text-anchor="middle" class="lb">a</text>
<text x="314.6" y="356.8" font-size="8.8" font-family='"Liberation Serif", serif' fill="#111" text-anchor="middle" class="lb">a</text>
<rect x="271.05" y="292.45" width="19.20" height="5.60" fill="#fff"/>
<clipPath id="c2705_2919"><rect x="271.05" y="292.45" width="19.20" height="5.60"/></clipPath>
<path clip-path="url(#c2705_2919)" d="M266.1 298.1L271.1 292.4M266.1 292.4L271.1 298.1M271.1 298.1L276.1 292.4M271.1 292.4L276.1 298.1M276.1 298.1L281.1 292.4M276.1 292.4L281.1 298.1M281.1 298.1L286.1 292.4M281.1 292.4L286.1 298.1M286.1 298.1L291.1 292.4M286.1 292.4L291.1 298.1" stroke="#333" stroke-width="0.85" fill="none"/>
<rect x="271.05" y="292.45" width="19.20" height="5.60" fill="none" stroke="#333" stroke-width="1.1"/>
<rect x="271.05" y="304.45" width="19.20" height="5.60" fill="#fff"/>
<clipPath id="c2705_3039"><rect x="271.05" y="304.45" width="19.20" height="5.60"/></clipPath>
<path clip-path="url(#c2705_3039)" d="M263.6 310.1L271.1 304.4M269.2 310.1L276.7 304.4M274.8 310.1L282.3 304.4M280.4 310.1L287.9 304.4M286.0 310.1L293.5 304.4" stroke="#333" stroke-width="0.85" fill="none"/>
<rect x="271.05" y="304.45" width="19.20" height="5.60" fill="none" stroke="#333" stroke-width="1.1"/>
<rect x="271.05" y="316.45" width="19.20" height="5.60" fill="#fff"/>
<clipPath id="c2705_3159"><rect x="271.05" y="316.45" width="19.20" height="5.60"/></clipPath>
<path clip-path="url(#c2705_3159)" d="M263.6 316.4L271.1 322.1M269.2 316.4L276.7 322.1M274.8 316.4L282.3 322.1M280.4 316.4L287.9 322.1M286.0 316.4L293.5 322.1" stroke="#333" stroke-width="0.85" fill="none"/>
<rect x="271.05" y="316.45" width="19.20" height="5.60" fill="none" stroke="#333" stroke-width="1.1"/>
<text x="296.0" y="298.0" font-size="8.5" font-family='"Liberation Serif", serif' fill="#222" textLength="14" lengthAdjust="spacingAndGlyphs">WV</text>
<text x="296.0" y="310.2" font-size="8.5" font-family='"Liberation Serif", serif' fill="#222" textLength="18.5" lengthAdjust="spacingAndGlyphs">HL-1</text>
<text x="296.0" y="322.5" font-size="8.5" font-family='"Liberation Serif", serif' fill="#222" textLength="18.8" lengthAdjust="spacingAndGlyphs">HL-2</text>
<text x="49.6" y="543.8" font-size="8.5" font-family='"Liberation Serif", serif' fill="#222" textLength="26.8" lengthAdjust="spacingAndGlyphs">Control</text>
<text x="96.4" y="543.1" font-size="8.5" font-family='"Liberation Serif", serif' fill="#222" textLength="26.3" lengthAdjust="spacingAndGlyphs">Vehicle</text>
<text x="147.7" y="537.9" font-size="8.2" font-family='"Liberation Serif", serif' fill="#222" textLength="7.7" lengthAdjust="spacingAndGlyphs">25</text>
<text x="162.4" y="537.9" font-size="8.2" font-family='"Liberation Serif", serif' fill="#222" textLength="7.8" lengthAdjust="spacingAndGlyphs">50</text>
<text x="176.2" y="537.9" font-size="8.2" font-family='"Liberation Serif", serif' fill="#222" textLength="11.9" lengthAdjust="spacingAndGlyphs">100</text>
<line x1="141" y1="540.6" x2="193.9" y2="540.6" stroke="#333" stroke-width="1.2"/>
<text x="144.1" y="549.8" font-size="8.8" font-family='"Liberation Serif", serif' fill="#222" textLength="44.0" lengthAdjust="spacingAndGlyphs">WV (µg/mL)</text>
<text x="213.7" y="537.9" font-size="8.2" font-family='"Liberation Serif", serif' fill="#222" textLength="7.7" lengthAdjust="spacingAndGlyphs">25</text>
<text x="228.4" y="537.9" font-size="8.2" font-family='"Liberation Serif", serif' fill="#222" textLength="7.8" lengthAdjust="spacingAndGlyphs">50</text>
<text x="242.2" y="537.9" font-size="8.2" font-family='"Liberation Serif", serif' fill="#222" textLength="11.9" lengthAdjust="spacingAndGlyphs">100</text>
<line x1="208.3" y1="540.6" x2="261.3" y2="540.6" stroke="#333" stroke-width="1.2"/>
<text x="210.1" y="549.8" font-size="8.8" font-family='"Liberation Serif", serif' fill="#222" textLength="49.1" lengthAdjust="spacingAndGlyphs">HL-1 (µg/mL)</text>
<text x="281.5" y="537.9" font-size="8.2" font-family='"Liberation Serif", serif' fill="#222" textLength="7.7" lengthAdjust="spacingAndGlyphs">25</text>
<text x="295.9" y="537.9" font-size="8.2" font-family='"Liberation Serif", serif' fill="#222" textLength="7.7" lengthAdjust="spacingAndGlyphs">50</text>
<text x="309.6" y="537.9" font-size="8.2" font-family='"Liberation Serif", serif' fill="#222" textLength="11.8" lengthAdjust="spacingAndGlyphs">100</text>
<line x1="274.8" y1="540.6" x2="327.7" y2="540.6" stroke="#333" stroke-width="1.2"/>
<text x="276.6" y="549.8" font-size="8.8" font-family='"Liberation Serif", serif' fill="#222" textLength="49.3" lengthAdjust="spacingAndGlyphs">HL-2 (µg/mL)</text>
<line x1="96.4" y1="559.5" x2="329.2" y2="559.5" stroke="#666" stroke-width="1.5"/>
<text x="184.2" y="572.4" font-size="8.5" font-family='"Liberation Serif", serif' fill="#222" textLength="62.3" lengthAdjust="spacingAndGlyphs">UVB (80 mJ/cm<tspan dy="-3.2" font-size="5.5">2</tspan><tspan dy="3.2">)</tspan></text>
<line x1="31" y1="529" x2="344.9" y2="529" stroke="#666" stroke-width="1.5"/>
</g>
<g id="chartC">
<line x1="37" y1="601.8" x2="37" y2="847.5" stroke="#666" stroke-width="1.5"/>
<line x1="33" y1="846.9" x2="37" y2="846.9" stroke="#555" stroke-width="1.2"/>
<text x="28.3" y="850.1" font-size="9.5" font-family='"Liberation Serif", serif' fill="#222" text-anchor="end" textLength="4.2" lengthAdjust="spacingAndGlyphs">0</text>
<line x1="33" y1="806.15" x2="37" y2="806.15" stroke="#555" stroke-width="1.2"/>
<text x="28.3" y="809.35" font-size="9.5" font-family='"Liberation Serif", serif' fill="#222" text-anchor="end" textLength="8.2" lengthAdjust="spacingAndGlyphs">20</text>
<line x1="33" y1="765.4" x2="37" y2="765.4" stroke="#555" stroke-width="1.2"/>
<text x="28.3" y="768.6" font-size="9.5" font-family='"Liberation Serif", serif' fill="#222" text-anchor="end" textLength="8.2" lengthAdjust="spacingAndGlyphs">40</text>
<line x1="33" y1="724.65" x2="37" y2="724.65" stroke="#555" stroke-width="1.2"/>
<text x="28.3" y="727.85" font-size="9.5" font-family='"Liberation Serif", serif' fill="#222" text-anchor="end" textLength="8.2" lengthAdjust="spacingAndGlyphs">60</text>
<line x1="33" y1="683.9" x2="37" y2="683.9" stroke="#555" stroke-width="1.2"/>
<text x="28.3" y="687.1" font-size="9.5" font-family='"Liberation Serif", serif' fill="#222" text-anchor="end" textLength="8.2" lengthAdjust="spacingAndGlyphs">80</text>
<line x1="33" y1="643.15" x2="37" y2="643.15" stroke="#555" stroke-width="1.2"/>
<text x="28.3" y="646.35" font-size="9.5" font-family='"Liberation Serif", serif' fill="#222" text-anchor="end" textLength="11.6" lengthAdjust="spacingAndGlyphs">100</text>
<line x1="33" y1="602.4" x2="37" y2="602.4" stroke="#555" stroke-width="1.2"/>
<text x="28.3" y="605.6" font-size="9.5" font-family='"Liberation Serif", serif' fill="#222" text-anchor="end" textLength="11.6" lengthAdjust="spacingAndGlyphs">120</text>
<text x="7.8" y="751.2" font-size="10.8" font-family='"Liberation Serif", serif' fill="#222" textLength="55" lengthAdjust="spacingAndGlyphs" transform="rotate(-90 7.8 751.2)">% of control</text>
<text x="46.2" y="602.3" font-size="20" font-family='"Liberation Sans", sans-serif' fill="#111" class="big" stroke="#111" stroke-width="0.3">C</text>
<line x1="66.7" y1="639.6" x2="66.7" y2="643.1" stroke="#555" stroke-width="1.6"/>
<line x1="63.0" y1="639.6" x2="70.4" y2="639.6" stroke="#555" stroke-width="1.5"/>
<rect x="60.5" y="643.1" width="13.0" height="203.9" fill="#fff"/>
<path d="M60.5 847V643.1H73.5V847" fill="none" stroke="#222" stroke-width="1"/>
<line x1="112.45" y1="799.2" x2="112.45" y2="803.3" stroke="#333" stroke-width="1.0"/>
<line x1="108.95" y1="799.2" x2="115.95" y2="799.2" stroke="#333" stroke-width="1.2"/>
<rect x="105.0" y="803.3" width="14.9" height="43.7" fill="#000"/>
<path d="M105.0 847V803.3H119.9V847" fill="none" stroke="#000" stroke-width="0.6"/>
<line x1="157.4" y1="782.6" x2="157.4" y2="787.28" stroke="#555" stroke-width="1.6"/>
<line x1="153.70000000000002" y1="782.6" x2="161.1" y2="782.6" stroke="#555" stroke-width="1.5"/>
<rect x="150.5" y="787.28" width="13.0" height="59.72" fill="#fff"/>
<path d="M157.4 847.0L163.5 840.6M151.3 847.0L163.5 834.2M150.5 841.5L163.5 827.8M150.5 835.1L163.5 821.4M150.5 828.7L163.5 815.0M150.5 822.3L163.5 808.6M150.5 815.9L163.5 802.2M150.5 809.5L163.5 795.8M150.5 803.1L163.5 789.4M150.5 796.7L159.4 787.3M150.5 790.3L153.3 787.3M150.5 840.6L156.6 847.0M150.5 834.2L162.7 847.0M150.5 827.8L163.5 841.5M150.5 821.4L163.5 835.1M150.5 815.0L163.5 828.7M150.5 808.6L163.5 822.3M150.5 802.2L163.5 815.9M150.5 795.8L163.5 809.5M150.5 789.4L163.5 803.1M154.6 787.3L163.5 796.7M160.7 787.3L163.5 790.3" stroke="#444" stroke-width="0.55" fill="none"/>
<path d="M150.5 847V787.28H163.5V847" fill="none" stroke="#1a1a1a" stroke-width="1.15"/>
<line x1="173.39999999999998" y1="771.6" x2="173.39999999999998" y2="777.98" stroke="#555" stroke-width="1.6"/>
<line x1="169.7" y1="771.6" x2="177.09999999999997" y2="771.6" stroke="#555" stroke-width="1.5"/>
<rect x="166.5" y="777.98" width="14.0" height="69.02" fill="#fff"/>
<path d="M174.4 847.0L180.5 840.6M168.3 847.0L180.5 834.2M166.5 842.5L180.5 827.8M166.5 836.1L180.5 821.4M166.5 829.7L180.5 815.0M166.5 823.3L180.5 808.6M166.5 816.9L180.5 802.2M166.5 810.5L180.5 795.8M166.5 804.1L180.5 789.4M166.5 797.7L180.5 783.0M166.5 791.3L179.2 778.0M166.5 784.9L173.1 778.0M166.5 778.5L167.0 778.0M166.5 840.6L172.6 847.0M166.5 834.2L178.7 847.0M166.5 827.8L180.5 842.5M166.5 821.4L180.5 836.1M166.5 815.0L180.5 829.7M166.5 808.6L180.5 823.3M166.5 802.2L180.5 816.9M166.5 795.8L180.5 810.5M166.5 789.4L180.5 804.1M166.5 783.0L180.5 797.7M167.8 778.0L180.5 791.3M173.9 778.0L180.5 784.9M180.0 778.0L180.5 778.5" stroke="#444" stroke-width="0.55" fill="none"/>
<path d="M166.5 847V777.98H180.5V847" fill="none" stroke="#1a1a1a" stroke-width="1.15"/>
<line x1="189.5" y1="765.8" x2="189.5" y2="771.38" stroke="#555" stroke-width="1.6"/>
<line x1="185.8" y1="765.8" x2="193.2" y2="765.8" stroke="#555" stroke-width="1.5"/>
<rect x="182.5" y="771.38" width="14.0" height="75.62" fill="#fff"/>
<path d="M190.4 847.0L196.5 840.6M184.3 847.0L196.5 834.2M182.5 842.5L196.5 827.8M182.5 836.1L196.5 821.4M182.5 829.7L196.5 815.0M182.5 823.3L196.5 808.6M182.5 816.9L196.5 802.2M182.5 810.5L196.5 795.8M182.5 804.1L196.5 789.4M182.5 797.7L196.5 783.0M182.5 791.3L196.5 776.6M182.5 784.9L195.4 771.4M182.5 778.5L189.3 771.4M182.5 772.1L183.2 771.4M182.5 840.6L188.6 847.0M182.5 834.2L194.7 847.0M182.5 827.8L196.5 842.5M182.5 821.4L196.5 836.1M182.5 815.0L196.5 829.7M182.5 808.6L196.5 823.3M182.5 802.2L196.5 816.9M182.5 795.8L196.5 810.5M182.5 789.4L196.5 804.1M182.5 783.0L196.5 797.7M182.5 776.6L196.5 791.3M183.6 771.4L196.5 784.9M189.7 771.4L196.5 778.5M195.8 771.4L196.5 772.1" stroke="#444" stroke-width="0.55" fill="none"/>
<path d="M182.5 847V771.38H196.5V847" fill="none" stroke="#1a1a1a" stroke-width="1.15"/>
<line x1="225.7" y1="769.0" x2="225.7" y2="779.48" stroke="#555" stroke-width="1.6"/>
<line x1="222.0" y1="769.0" x2="229.39999999999998" y2="769.0" stroke="#555" stroke-width="1.5"/>
<rect x="219.5" y="779.48" width="13.0" height="67.52" fill="#fff"/>
<path d="M226.6 847.0L232.5 841.4M220.7 847.0L232.5 835.8M219.5 842.5L232.5 830.2M219.5 836.9L232.5 824.6M219.5 831.3L232.5 819.0M219.5 825.7L232.5 813.4M219.5 820.1L232.5 807.8M219.5 814.5L232.5 802.2M219.5 808.9L232.5 796.6M219.5 803.3L232.5 791.0M219.5 797.7L232.5 785.4M219.5 792.1L232.5 779.8M219.5 786.5L226.9 779.5M219.5 780.9L221.0 779.5" stroke="#555" stroke-width="0.6" fill="none"/>
<path d="M219.5 847V779.48H232.5V847" fill="none" stroke="#1a1a1a" stroke-width="1.15"/>
<line x1="241.55" y1="769.5" x2="241.55" y2="777.08" stroke="#555" stroke-width="1.6"/>
<line x1="237.85000000000002" y1="769.5" x2="245.25" y2="769.5" stroke="#555" stroke-width="1.5"/>
<rect x="234.5" y="777.08" width="14.0" height="69.92" fill="#fff"/>
<path d="M242.6 847.0L248.5 841.4M236.7 847.0L248.5 835.8M234.5 843.5L248.5 830.2M234.5 837.9L248.5 824.6M234.5 832.3L248.5 819.0M234.5 826.7L248.5 813.4M234.5 821.1L248.5 807.8M234.5 815.5L248.5 802.2M234.5 809.9L248.5 796.6M234.5 804.3L248.5 791.0M234.5 798.7L248.5 785.4M234.5 793.1L248.5 779.8M234.5 787.5L245.5 777.1M234.5 781.9L239.6 777.1" stroke="#555" stroke-width="0.6" fill="none"/>
<path d="M234.5 847V777.08H248.5V847" fill="none" stroke="#1a1a1a" stroke-width="1.15"/>
<line x1="257.6" y1="755.4" x2="257.6" y2="769.78" stroke="#555" stroke-width="1.6"/>
<line x1="253.90000000000003" y1="755.4" x2="261.3" y2="755.4" stroke="#555" stroke-width="1.5"/>
<rect x="251.5" y="769.78" width="13.0" height="77.22" fill="#fff"/>
<path d="M258.6 847.0L264.5 841.4M252.7 847.0L264.5 835.8M251.5 842.5L264.5 830.2M251.5 836.9L264.5 824.6M251.5 831.3L264.5 819.0M251.5 825.7L264.5 813.4M251.5 820.1L264.5 807.8M251.5 814.5L264.5 802.2M251.5 808.9L264.5 796.6M251.5 803.3L264.5 791.0M251.5 797.7L264.5 785.4M251.5 792.1L264.5 779.8M251.5 786.5L264.5 774.2M251.5 780.9L263.3 769.8M251.5 775.3L257.4 769.8" stroke="#555" stroke-width="0.6" fill="none"/>
<path d="M251.5 847V769.78H264.5V847" fill="none" stroke="#1a1a1a" stroke-width="1.15"/>
<line x1="294.35" y1="765.6" x2="294.35" y2="775.28" stroke="#555" stroke-width="1.6"/>
<line x1="290.65000000000003" y1="765.6" x2="298.05" y2="765.6" stroke="#555" stroke-width="1.5"/>
<rect x="287.5" y="775.28" width="13.0" height="71.72" fill="#fff"/>
<path d="M287.5 841.4L292.8 847.0M287.5 835.8L298.2 847.0M287.5 830.2L300.5 843.8M287.5 824.6L300.5 838.2M287.5 819.0L300.5 832.6M287.5 813.4L300.5 827.0M287.5 807.8L300.5 821.4M287.5 802.2L300.5 815.8M287.5 796.6L300.5 810.2M287.5 791.0L300.5 804.6M287.5 785.4L300.5 799.0M287.5 779.8L300.5 793.4M288.5 775.3L300.5 787.8M293.9 775.3L300.5 782.2M299.2 775.3L300.5 776.6" stroke="#555" stroke-width="0.6" fill="none"/>
<path d="M287.5 847V775.28H300.5V847" fill="none" stroke="#1a1a1a" stroke-width="1.15"/>
<line x1="310.25" y1="759.1" x2="310.25" y2="768.78" stroke="#555" stroke-width="1.6"/>
<line x1="306.55" y1="759.1" x2="313.95" y2="759.1" stroke="#555" stroke-width="1.5"/>
<rect x="303.5" y="768.78" width="13.0" height="78.22" fill="#fff"/>
<path d="M303.5 841.4L308.8 847.0M303.5 835.8L314.2 847.0M303.5 830.2L316.5 843.8M303.5 824.6L316.5 838.2M303.5 819.0L316.5 832.6M303.5 813.4L316.5 827.0M303.5 807.8L316.5 821.4M303.5 802.2L316.5 815.8M303.5 796.6L316.5 810.2M303.5 791.0L316.5 804.6M303.5 785.4L316.5 799.0M303.5 779.8L316.5 793.4M303.5 774.2L316.5 787.8M303.7 768.8L316.5 782.2M309.0 768.8L316.5 776.6M314.3 768.8L316.5 771.0" stroke="#555" stroke-width="0.6" fill="none"/>
<path d="M303.5 847V768.78H316.5V847" fill="none" stroke="#1a1a1a" stroke-width="1.15"/>
<line x1="326.45000000000005" y1="764.1" x2="326.45000000000005" y2="771.68" stroke="#555" stroke-width="1.6"/>
<line x1="322.75000000000006" y1="764.1" x2="330.15000000000003" y2="764.1" stroke="#555" stroke-width="1.5"/>
<rect x="319.5" y="771.68" width="14.0" height="75.32" fill="#fff"/>
<path d="M319.5 841.4L324.8 847.0M319.5 835.8L330.2 847.0M319.5 830.2L333.5 844.9M319.5 824.6L333.5 839.3M319.5 819.0L333.5 833.7M319.5 813.4L333.5 828.1M319.5 807.8L333.5 822.5M319.5 802.2L333.5 816.9M319.5 796.6L333.5 811.3M319.5 791.0L333.5 805.7M319.5 785.4L333.5 800.1M319.5 779.8L333.5 794.5M319.5 774.2L333.5 788.9M322.4 771.7L333.5 783.3M327.8 771.7L333.5 777.7M333.1 771.7L333.5 772.1" stroke="#555" stroke-width="0.6" fill="none"/>
<path d="M319.5 847V771.68H333.5V847" fill="none" stroke="#1a1a1a" stroke-width="1.15"/>
<text x="66.7" y="626.1" font-size="10" font-family='"Liberation Serif", serif' fill="#111" text-anchor="middle" class="lb">d</text>
<text x="112.4" y="787.2" font-size="10" font-family='"Liberation Serif", serif' fill="#111" text-anchor="middle" class="lb">a</text>
<text x="157.4" y="771.6" font-size="10" font-family='"Liberation Serif", serif' fill="#111" text-anchor="middle" class="lb">b</text>
<text x="173.4" y="754.4" font-size="10" font-family='"Liberation Serif", serif' fill="#111" text-anchor="middle" class="lb">b</text>
<text x="173.4" y="765.1" font-size="10" font-family='"Liberation Serif", serif' fill="#111" text-anchor="middle" class="lb">c</text>
<text x="189.5" y="757.7" font-size="10" font-family='"Liberation Serif", serif' fill="#111" text-anchor="middle" class="lb">c</text>
<text x="225.7" y="753.1" font-size="10" font-family='"Liberation Serif", serif' fill="#111" text-anchor="middle" class="lb">b</text>
<text x="225.7" y="763.1" font-size="10" font-family='"Liberation Serif", serif' fill="#111" text-anchor="middle" class="lb">c</text>
<text x="241.5" y="753.1" font-size="10" font-family='"Liberation Serif", serif' fill="#111" text-anchor="middle" class="lb">b</text>
<text x="241.5" y="763.1" font-size="10" font-family='"Liberation Serif", serif' fill="#111" text-anchor="middle" class="lb">c</text>
<text x="257.6" y="748.3" font-size="10" font-family='"Liberation Serif", serif' fill="#111" text-anchor="middle" class="lb">c</text>
<text x="294.3" y="753.6" font-size="10" font-family='"Liberation Serif", serif' fill="#111" text-anchor="middle" class="lb">c</text>
<text x="310.2" y="753.4" font-size="10" font-family='"Liberation Serif", serif' fill="#111" text-anchor="middle" class="lb">c</text>
<text x="326.4" y="753.4" font-size="10" font-family='"Liberation Serif", serif' fill="#111" text-anchor="middle" class="lb">c</text>
<rect x="285.55" y="615.05" width="19.10" height="5.70" fill="#fff"/>
<clipPath id="c2850_6145"><rect x="285.55" y="615.05" width="19.10" height="5.70"/></clipPath>
<path clip-path="url(#c2850_6145)" d="M279.2 620.8L285.6 615.0M279.2 615.0L285.6 620.8M285.6 620.8L291.9 615.0M285.6 615.0L291.9 620.8M291.9 620.8L298.3 615.0M291.9 615.0L298.3 620.8M298.3 620.8L304.7 615.0M298.3 615.0L304.7 620.8" stroke="#333" stroke-width="0.85" fill="none"/>
<rect x="285.55" y="615.05" width="19.10" height="5.70" fill="none" stroke="#111" stroke-width="1.1"/>
<rect x="285.55" y="627.30" width="19.10" height="5.70" fill="#fff"/>
<clipPath id="c2850_6268"><rect x="285.55" y="627.30" width="19.10" height="5.70"/></clipPath>
<path clip-path="url(#c2850_6268)" d="M278.6 633.0L285.6 627.3M284.4 633.0L291.4 627.3M290.2 633.0L297.2 627.3M296.0 633.0L303.0 627.3M301.8 633.0L308.8 627.3" stroke="#333" stroke-width="0.85" fill="none"/>
<rect x="285.55" y="627.30" width="19.10" height="5.70" fill="none" stroke="#111" stroke-width="1.1"/>
<rect x="285.55" y="639.55" width="19.10" height="5.70" fill="#fff"/>
<clipPath id="c2850_6390"><rect x="285.55" y="639.55" width="19.10" height="5.70"/></clipPath>
<path clip-path="url(#c2850_6390)" d="M278.6 639.5L285.6 645.2M284.4 639.5L291.4 645.2M290.2 639.5L297.2 645.2M296.0 639.5L303.0 645.2M301.8 639.5L308.8 645.2" stroke="#333" stroke-width="0.85" fill="none"/>
<rect x="285.55" y="639.55" width="19.10" height="5.70" fill="none" stroke="#111" stroke-width="1.1"/>
<text x="310.8" y="620.7" font-size="8.5" font-family='"Liberation Serif", serif' fill="#222" textLength="14" lengthAdjust="spacingAndGlyphs">WV</text>
<text x="310.8" y="632.9" font-size="8.5" font-family='"Liberation Serif", serif' fill="#222" textLength="18.6" lengthAdjust="spacingAndGlyphs">HL-1</text>
<text x="310.8" y="645.1" font-size="8.5" font-family='"Liberation Serif", serif' fill="#222" textLength="18.9" lengthAdjust="spacingAndGlyphs">HL-2</text>
<text x="52.5" y="865" font-size="8.5" font-family='"Liberation Serif", serif' fill="#222" textLength="27.7" lengthAdjust="spacingAndGlyphs">Control</text>
<text x="100" y="865" font-size="8.5" font-family='"Liberation Serif", serif' fill="#222" textLength="27.4" lengthAdjust="spacingAndGlyphs">Vehicle</text>
<text x="154.4" y="858.8" font-size="8.2" font-family='"Liberation Serif", serif' fill="#222" textLength="7.5" lengthAdjust="spacingAndGlyphs">25</text>
<text x="168.8" y="858.8" font-size="8.2" font-family='"Liberation Serif", serif' fill="#222" textLength="8.1" lengthAdjust="spacingAndGlyphs">50</text>
<text x="183.5" y="858.8" font-size="8.2" font-family='"Liberation Serif", serif' fill="#222" textLength="12.6" lengthAdjust="spacingAndGlyphs">100</text>
<line x1="147.2" y1="862.4" x2="201.1" y2="862.4" stroke="#666" stroke-width="1.5"/>
<text x="150.4" y="871.5" font-size="8.8" font-family='"Liberation Serif", serif' fill="#222" textLength="43.5" lengthAdjust="spacingAndGlyphs">WV (µg/mL)</text>
<text x="222.2" y="858.8" font-size="8.2" font-family='"Liberation Serif", serif' fill="#222" textLength="7.6" lengthAdjust="spacingAndGlyphs">25</text>
<text x="237" y="858.8" font-size="8.2" font-family='"Liberation Serif", serif' fill="#222" textLength="8.1" lengthAdjust="spacingAndGlyphs">50</text>
<text x="251.4" y="858.8" font-size="8.2" font-family='"Liberation Serif", serif' fill="#222" textLength="12.2" lengthAdjust="spacingAndGlyphs">100</text>
<line x1="216.8" y1="862.4" x2="271.1" y2="862.4" stroke="#666" stroke-width="1.5"/>
<text x="217.6" y="871.5" font-size="8.8" font-family='"Liberation Serif", serif' fill="#222" textLength="50.8" lengthAdjust="spacingAndGlyphs">HL-1 (µg/mL)</text>
<text x="291.1" y="858.8" font-size="8.2" font-family='"Liberation Serif", serif' fill="#222" textLength="7.8" lengthAdjust="spacingAndGlyphs">25</text>
<text x="306.1" y="858.8" font-size="8.2" font-family='"Liberation Serif", serif' fill="#222" textLength="8.1" lengthAdjust="spacingAndGlyphs">50</text>
<text x="320.8" y="858.8" font-size="8.2" font-family='"Liberation Serif", serif' fill="#222" textLength="12.2" lengthAdjust="spacingAndGlyphs">100</text>
<line x1="284.5" y1="862.4" x2="339.3" y2="862.4" stroke="#666" stroke-width="1.5"/>
<text x="286.3" y="871.5" font-size="8.8" font-family='"Liberation Serif", serif' fill="#222" textLength="51.2" lengthAdjust="spacingAndGlyphs">HL-2 (µg/mL)</text>
<line x1="98.8" y1="882.5" x2="341.2" y2="882.5" stroke="#666" stroke-width="1.5"/>
<text x="191.2" y="894.1" font-size="8.5" font-family='"Liberation Serif", serif' fill="#222" textLength="65" lengthAdjust="spacingAndGlyphs">UVB (80 mJ/cm<tspan dy="-3.2" font-size="5.5">2</tspan><tspan dy="3.2">)</tspan></text>
<line x1="33" y1="846.9" x2="356" y2="846.9" stroke="#6a6a6a" stroke-width="1.5"/>
</g>
</svg></body></html>
